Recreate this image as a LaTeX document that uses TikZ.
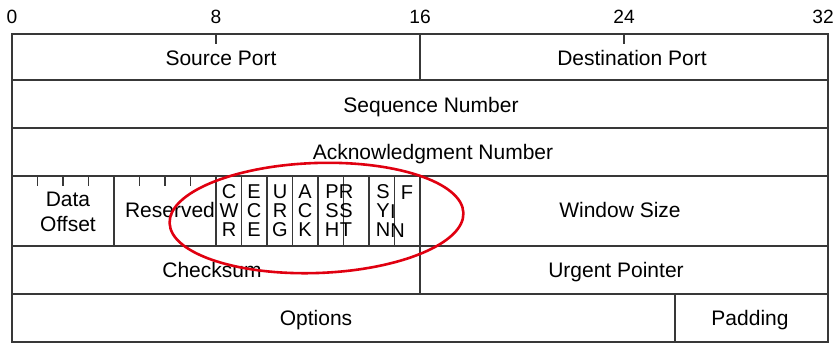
\documentclass[tikz,border=0pt]{standalone}
\usepackage{fontspec}
\setmainfont{Liberation Sans}
\usetikzlibrary{positioning}

\definecolor{rulegray}{RGB}{56,56,56}
\definecolor{markred}{RGB}{224,0,16}

\begin{document}
\begin{tikzpicture}[
  x=0.5pt, y=-0.5pt,
  every node/.style={font=\fontsize{10.5}{12.5}\selectfont, inner sep=0pt},
  field/.style={anchor=base},
  rule/.style={draw=rulegray, line width=0.8pt},
  flag/.style={font=\fontsize{10}{9.5}\selectfont, align=center},
  bitnum/.style={anchor=base, font=\fontsize{9.6}{11}\selectfont},
  ring/.style={draw=markred, line width=1.3pt},
]
\useasboundingbox (0,0) rectangle (836,344);

%% Frame and rows
\draw[rule] (12,34) rectangle (828,342);
\foreach \y in {80,128,176,246,294}
  \draw[rule] (12,\y) -- (828,\y);

%% Field dividers
\draw[rule] (420,34) -- (420,80);
\draw[rule] (420,246) -- (420,294);
\draw[rule] (675,294) -- (675,342);
\foreach \b in {4,8,9,...,16}
  \draw[rule] (12+25.5*\b,176) -- (12+25.5*\b,246);

%% Bit ticks
\foreach \b in {8,24}
  \draw[rule] (12+25.5*\b,34) -- (12+25.5*\b,44);
\foreach \b in {1,2,3,5,6,7}
  \draw[rule] (12+25.5*\b,176) -- (12+25.5*\b,186);

%% Bit numbers
\node[bitnum] (b0)  at (12,23)  {0};
\node[bitnum] (b8)  at (216,23) {8};
\node[bitnum] (b16) at (420,23) {16};
\node[bitnum] (b24) at (624,23) {24};
\node[bitnum] (b32) at (823,23) {32};

%% Row 1
\node[field] (sport) at (221,65) {Source Port};
\node[field] (dport) at (632,65) {Destination Port};

%% Rows 2 and 3
\node[field] (seq) at (431,112) {Sequence Number};
\node[field] (ack) at (433,159) {Acknowledgment Number};

%% Row 4
\node[align=center] (doff) at (68,212) {Data\\Offset};
\node[field] (resv) at (170,217) {Reserved};
\node[flag] (cwr) at (229,211) {C\\W\\R};
\node[flag] (ece) at (254,211) {E\\C\\E};
\node[flag] (urgf) at (280,211) {U\\R\\G};
\node[flag] (ackf) at (305,211) {A\\C\\K};
\node[flag] (psh) at (332,211) {P\\S\\H};
\node[flag] (rst) at (346,211) {R\\S\\T};
\node[flag] (syn) at (383,211) {S\\Y\\N};
\node[flag, anchor=base] (finf) at (407,199) {F};
\node[flag, anchor=base] (fini) at (393,218) {I};
\node[flag, anchor=base] (finn) at (397.5,237) {N};
\node[field] (win) at (620,217) {Window Size};

%% Row 5
\node[field] (csum) at (212,277) {Checksum};
\node[field] (urg) at (616,277) {Urgent Pointer};

%% Row 6
\node[field] (opts) at (316,325) {Options};
\node[field] (pad) at (750,325) {Padding};

%% Highlight of the flag bits
\draw[ring] (316.5,218) ellipse [x radius=73.5pt, y radius=27.5pt, rotate=2];

\end{tikzpicture}
\end{document}
